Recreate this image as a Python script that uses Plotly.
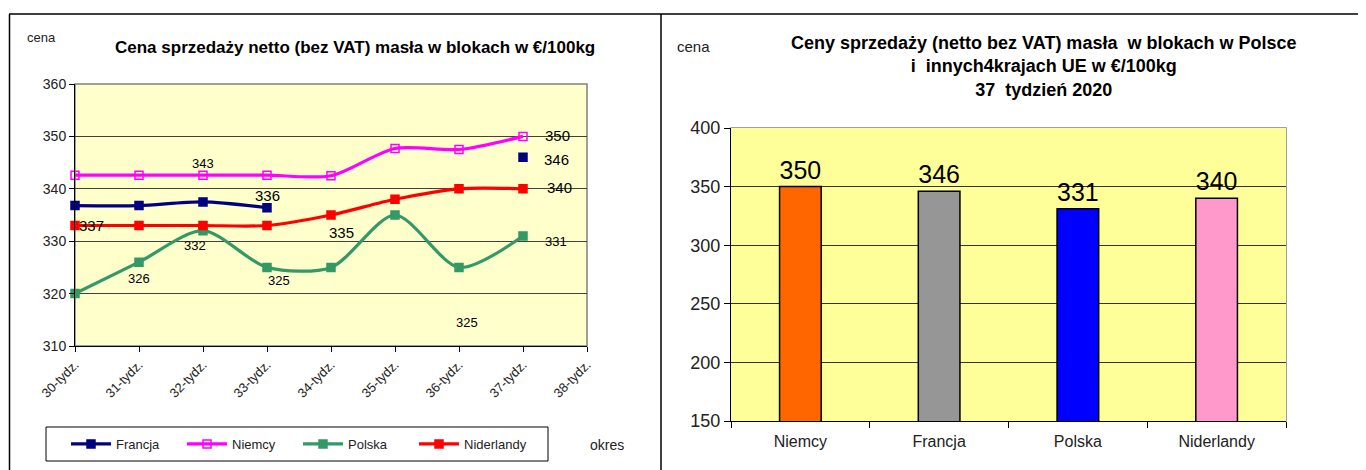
import plotly.graph_objects as go

# ---------------- data ----------------
weeks = ["30-tydz.", "31-tydz.", "32-tydz.", "33-tydz.", "34-tydz.",
         "35-tydz.", "36-tydz.", "37-tydz.", "38-tydz."]
francja = [336.8, 336.8, 337.5, 336.4, None, None, None, 346.0]
niemcy = [342.6, 342.6, 342.6, 342.6, 342.5, 347.7, 347.5, 350.0]
polska = [320, 326, 332, 325, 325, 335, 325, 331]
niderlandy = [333, 333, 333, 333, 335, 338, 340, 340]

bar_countries = ["Niemcy", "Francja", "Polska", "Niderlandy"]
bar_values = [350, 346, 331, 340]

FONT = "Liberation Sans, Arial, sans-serif"

# ---------------- layout geometry ----------------
# the page body has an 8px margin; positions below are window pixels
OFF = 8
W, H = 1366 - OFF, 470 - OFF
def px_x(p):
    return (p - OFF) / W
def px_y(p):
    return 1 - (p - OFF) / H

left_dom_x = [px_x(75), px_x(587)]
left_dom_y = [px_y(346), px_y(84)]
right_dom_x = [px_x(731), px_x(1286)]
right_dom_y = [px_y(421), px_y(128)]

fig = go.Figure()

series = [
    ("Francja", francja, "#000080", "square"),
    ("Niemcy", niemcy, "#FF00FF", "square-open"),
    ("Polska", polska, "#339966", "square"),
    ("Niderlandy", niderlandy, "#FF0000", "square"),
]
xs = list(range(len(weeks) - 1))
for name, vals, color, sym in series:
    fig.add_trace(go.Scatter(
        x=xs, y=vals, name=name, mode="lines+markers",
        line=dict(color=color, width=3.2, shape="spline", smoothing=0.8),
        marker=dict(symbol=sym, size=8, color=color,
                    line=dict(color=color, width=1.5)),
        connectgaps=False, xaxis="x", yaxis="y", cliponaxis=False,
    ))

fig.add_trace(go.Bar(
    x=bar_countries, y=bar_values, showlegend=False,
    marker=dict(color=["#FF6600", "#969696", "#0000FF", "#FF99CC"],
                line=dict(color="#000000", width=1.5)),
    width=0.3, text=[str(v) for v in bar_values], textposition="outside",
    textfont=dict(size=25, color="#000000", family=FONT),
    cliponaxis=False, xaxis="x2", yaxis="y2",
))

# ---------------- data labels on the line chart ----------------
label_specs = [
    # (series values, index, xshift, yshift, big)
    (francja, 0, 16, -20, True),
    (niemcy, 2, 0, 12, False),
    (francja, 3, 0, 12, True),
    (polska, 2, -8, -15, False),
    (polska, 1, 0, -16, False),
    (polska, 3, 12, -13, False),
    (niderlandy, 4, 10, -17, True),
    (polska, 6, 8, -55, False),
    (polska, 7, 33, -6, False),
    (niemcy, 7, 34, 1, True),
    (francja, 7, 33, -2, True),
    (niderlandy, 7, 36, 1, True),
]
annotations = []
for vals, i, dx, dy, big in label_specs:
    annotations.append(dict(
        x=i, y=vals[i], xref="x", yref="y", text=str(round(vals[i])),
        showarrow=False, xshift=dx, yshift=dy,
        font=dict(size=15 if big else 13, color="#000000", family=FONT),
    ))

# ---------------- texts ----------------
annotations += [
    dict(x=px_x(41), y=px_y(37), xref="paper", yref="paper", showarrow=False,
         xanchor="center", yanchor="middle",
         text="cena", font=dict(size=13, color="#222222", family=FONT)),
    dict(x=px_x(355), y=px_y(48), xref="paper", yref="paper", showarrow=False,
         xanchor="center", yanchor="middle",
         text="<b>Cena sprzedaży netto (bez VAT) masła w blokach w €/100kg</b>",
         font=dict(size=17, color="#000000", family=FONT)),
    dict(x=px_x(607), y=px_y(445), xref="paper", yref="paper", showarrow=False,
         xanchor="center", yanchor="middle",
         text="okres", font=dict(size=14, color="#222222", family=FONT)),
    dict(x=px_x(693), y=px_y(47), xref="paper", yref="paper", showarrow=False,
         xanchor="center", yanchor="middle",
         text="cena", font=dict(size=15, color="#222222", family=FONT)),
    dict(x=px_x(1043), y=px_y(67), xref="paper", yref="paper", showarrow=False,
         xanchor="center", yanchor="middle",
         text="<b>Ceny sprzedaży (netto bez VAT) masła  w blokach w Polsce<br>"
              "i  innych4krajach UE w €/100kg<br>37  tydzień 2020</b>",
         align="center",
         font=dict(size=18, color="#000000", family=FONT)),
]

# ---------------- frame and plot-area borders ----------------
shapes = [
    dict(type="line", xref="paper", yref="paper", x0=px_x(9), x1=1,
         y0=px_y(14), y1=px_y(14), line=dict(color="#000000", width=1.5)),
    dict(type="line", xref="paper", yref="paper", x0=px_x(9.5), x1=px_x(9.5),
         y0=px_y(14), y1=0, line=dict(color="#000000", width=1.5)),
    dict(type="line", xref="paper", yref="paper", x0=px_x(661), x1=px_x(661),
         y0=px_y(14), y1=0, line=dict(color="#000000", width=1.5)),
    dict(type="rect", xref="x domain", yref="y domain", x0=0, x1=1, y0=0, y1=1,
         line=dict(color="#808080", width=1.5), layer="below"),
    dict(type="rect", xref="x2 domain", yref="y2 domain", x0=0, x1=1, y0=0, y1=1,
         line=dict(color="#808080", width=1.5), layer="below"),
    # legend box
    dict(type="rect", xref="paper", yref="paper", x0=px_x(46), x1=px_x(548),
         y0=px_y(461), y1=px_y(427), line=dict(color="#000000", width=1)),
]

fig.update_layout(
    width=W, height=H,
    autosize=False,
    margin=dict(l=0, r=0, t=0, b=0, pad=0, autoexpand=False),
    paper_bgcolor="#FFFFFF",
    plot_bgcolor="#FFFFCC",
    font=dict(family=FONT, color="#222222"),
    showlegend=True,
    legend=dict(orientation="h", x=px_x(66), y=px_y(444), xanchor="left",
                yanchor="middle", bgcolor="rgba(0,0,0,0)", borderwidth=0,
                font=dict(size=13, color="#222222", family=FONT),
                itemwidth=40, entrywidth=61, tracegroupgap=0),
    xaxis=dict(domain=left_dom_x, anchor="y", range=[0, 8], automargin=False,
               tickvals=list(range(len(weeks))), ticktext=weeks,
               tickangle=-45, ticks="outside", ticklen=5, tickcolor="#000000",
               showgrid=False, showline=True, linecolor="#000000", linewidth=1,
               zeroline=False, tickfont=dict(size=13, color="#222222")),
    yaxis=dict(domain=left_dom_y, anchor="x", range=[310, 360], dtick=10,
               automargin=False,
               ticks="outside", ticklen=5, tickcolor="#000000",
               showgrid=True, gridcolor="#404040", gridwidth=1,
               showline=True, linecolor="#000000", linewidth=1, zeroline=False,
               tickfont=dict(size=14, color="#222222")),
    xaxis2=dict(domain=right_dom_x, anchor="y2", type="category",
                automargin=False,
                ticks="outside", tickson="boundaries", ticklen=6,
                ticklabelstandoff=6,
                tickcolor="#000000", showline=True, linecolor="#000000",
                linewidth=1, showgrid=False,
                tickfont=dict(size=16, color="#222222")),
    yaxis2=dict(domain=right_dom_y, anchor="x2", range=[150, 400], dtick=50,
                automargin=False,
                ticks="outside", ticklen=6, tickcolor="#000000",
                showgrid=True, gridcolor="#333333", gridwidth=1,
                showline=True, linecolor="#000000", linewidth=1, zeroline=False,
                tickfont=dict(size=18, color="#222222")),
    annotations=annotations,
    shapes=shapes,
)

# yellow background for right plot area via a below-layer rect
fig.add_shape(type="rect", xref="x2 domain", yref="y2 domain", x0=0, x1=1,
              y0=0, y1=1, fillcolor="#FFFF99", line=dict(width=0), layer="below")

fig.write_html("out.html")
